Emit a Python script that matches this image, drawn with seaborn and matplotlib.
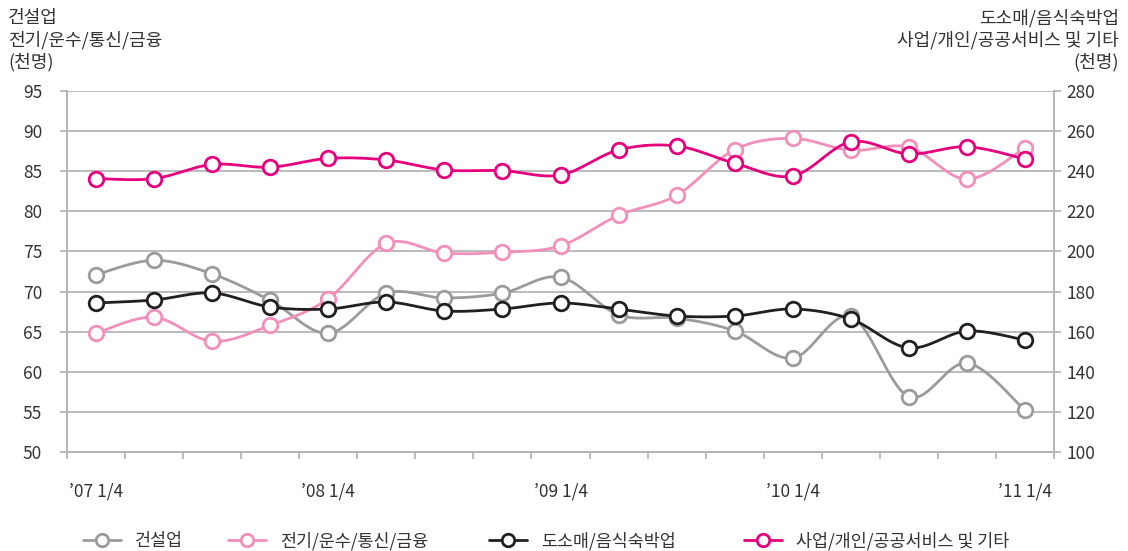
import numpy as np
import pandas as pd
import matplotlib
matplotlib.use("Agg")
import matplotlib.pyplot as plt
from matplotlib.lines import Line2D
import seaborn as sns

# ---------------- data ----------------
quarters = ["’07 1/4", "’07 2/4", "’07 3/4", "’07 4/4",
            "’08 1/4", "’08 2/4", "’08 3/4", "’08 4/4",
            "’09 1/4", "’09 2/4", "’09 3/4", "’09 4/4",
            "’10 1/4", "’10 2/4", "’10 3/4", "’10 4/4",
            "’11 1/4"]
construction = [72.1, 73.9, 72.2, 68.9, 64.8, 69.8, 69.2, 69.8, 71.8,
                67.1, 66.7, 65.1, 61.7, 66.9, 56.9, 61.1, 55.2]
utilities = [64.8, 66.8, 63.8, 65.8, 69.1, 76.0, 74.8, 74.9, 75.7,
             79.5, 82.0, 87.7, 89.1, 87.6, 88.0, 84.0, 87.9]
retail = [174.3, 175.8, 179.3, 172.3, 171.3, 174.8, 170.3, 171.3, 174.3,
          171.3, 167.8, 167.8, 171.3, 166.3, 151.9, 160.3, 155.8]
services = [236.3, 236.3, 243.4, 242.0, 246.4, 245.6, 240.6, 240.3, 238.1,
            250.6, 252.6, 244.0, 237.6, 254.7, 248.6, 252.2, 246.1]

names = ["건설업", "전기/운수/통신/금융", "도소매/음식숙박업", "사업/개인/공공서비스 및 기타"]
colors = ["#9b9b9b", "#f28fbb", "#231f20", "#e6007e"]

left_ticks = list(range(50, 96, 5))
right_ticks = list(range(100, 281, 20))

# ---------------- style ----------------
sns.set_theme(style="white")
plt.rcParams["font.family"] = ["Noto Sans CJK KR", "DejaVu Sans"]
text_color = "#333333"
grid_color = "#b5b5b5"

fig = plt.figure(figsize=(11.28, 5.51), dpi=100)
ax = fig.add_axes([67 / 1128, 1 - 452 / 551, (1054 - 67) / 1128, (452 - 91) / 551])
ax2 = ax.twinx()

x = np.arange(len(quarters))


def smooth(xv, yv, n=30):
    """Catmull-Rom / Bezier smoothing like spreadsheet 'smoothed line'."""
    xv = np.asarray(xv, float)
    yv = np.asarray(yv, float)
    P = np.column_stack([xv, yv])
    Pe = np.vstack([P[0], P, P[-1]])
    out = []
    t = np.linspace(0, 1, n)[:, None]
    for i in range(len(P) - 1):
        p0, p1, p2, p3 = Pe[i], Pe[i + 1], Pe[i + 2], Pe[i + 3]
        c1 = p1 + (p2 - p0) / 6.0
        c2 = p2 - (p3 - p1) / 6.0
        seg = ((1 - t) ** 3) * p1 + 3 * ((1 - t) ** 2) * t * c1 + 3 * (1 - t) * t ** 2 * c2 + t ** 3 * p2
        out.append(seg if i == 0 else seg[1:])
    s = np.vstack(out)
    return s[:, 0], s[:, 1]


series = [(ax, construction), (ax, utilities), (ax2, retail), (ax2, services)]
for (a, vals), name, col in zip(series, names, colors):
    sx, sy = smooth(x, vals)
    sns.lineplot(x=sx, y=sy, ax=a, color=col, lw=2.0, sort=False, estimator=None, zorder=3)
    df = pd.DataFrame({"x": x, "y": vals})
    a.plot(df["x"], df["y"], ls="none", marker="o", ms=10.5, mfc="white",
           mec=col, mew=2.0, zorder=4)

# ---------------- axes ----------------
ax.set_xlim(-0.5, len(quarters) - 0.5)
ax.set_ylim(50, 95)
ax2.set_ylim(100, 280)
ax.set_yticks(left_ticks)
ax2.set_yticks(right_ticks)
ax.set_yticklabels([str(v) for v in left_ticks])
ax2.set_yticklabels([str(v) for v in right_ticks])

major_idx = [i for i, q in enumerate(quarters) if q.endswith("1/4")]
ax.set_xticks(major_idx)
ax.set_xticklabels([quarters[i] for i in major_idx])
ax.set_xticks(np.arange(-0.5, len(quarters), 1.0), minor=True)

ax.yaxis.grid(True, color=grid_color, lw=1.3)
ax.set_axisbelow(True)
ax.xaxis.grid(False)
ax2.grid(False)

for a in (ax, ax2):
    a.spines["top"].set_visible(False)
    for side in ("left", "right", "bottom"):
        a.spines[side].set_color(grid_color)
        a.spines[side].set_linewidth(1.3)
    a.set_xlabel("")
    a.set_ylabel("")

ax.tick_params(axis="y", which="major", direction="out", length=5, width=1.3,
               color=grid_color, labelsize=12.5, labelcolor=text_color, pad=13, left=True)
ax2.tick_params(axis="y", which="major", direction="out", length=5, width=1.3,
                color=grid_color, labelsize=12.5, labelcolor=text_color, pad=4, right=True)
ax.tick_params(axis="x", which="major", length=0, labelsize=12.5, labelcolor=text_color, pad=22)
ax.tick_params(axis="x", which="minor", direction="out", length=5, width=1.3,
               color=grid_color, bottom=True)

# ---------------- axis titles ----------------
fig.text(8 / 1128, 1 - 9 / 551, "건설업\n전기/운수/통신/금융\n(천명)", ha="left", va="top",
         fontsize=13, color=text_color, linespacing=1.25)
fig.text(1119 / 1128, 1 - 9 / 551, "도소매/음식숙박업\n사업/개인/공공서비스 및 기타\n(천명)",
         ha="right", va="top", fontsize=13, color=text_color, linespacing=1.25,
         multialignment="right")

# ---------------- legend ----------------
leg_x = [83, 228, 489, 744]
for name, col, lx in zip(names, colors, leg_x):
    h = Line2D([0], [0], color=col, lw=2.0, marker="o", ms=9, mfc="white", mec=col, mew=2.0)
    lg = fig.legend(handles=[h], labels=[name], loc="center left",
                    bbox_to_anchor=(lx / 1128, 1 - 541 / 551), frameon=False,
                    borderpad=0, borderaxespad=0, handlelength=2.2, handletextpad=0.8,
                    fontsize=12.5)
    for t in lg.get_texts():
        t.set_color(text_color)

fig.savefig("out.png", dpi=100)
